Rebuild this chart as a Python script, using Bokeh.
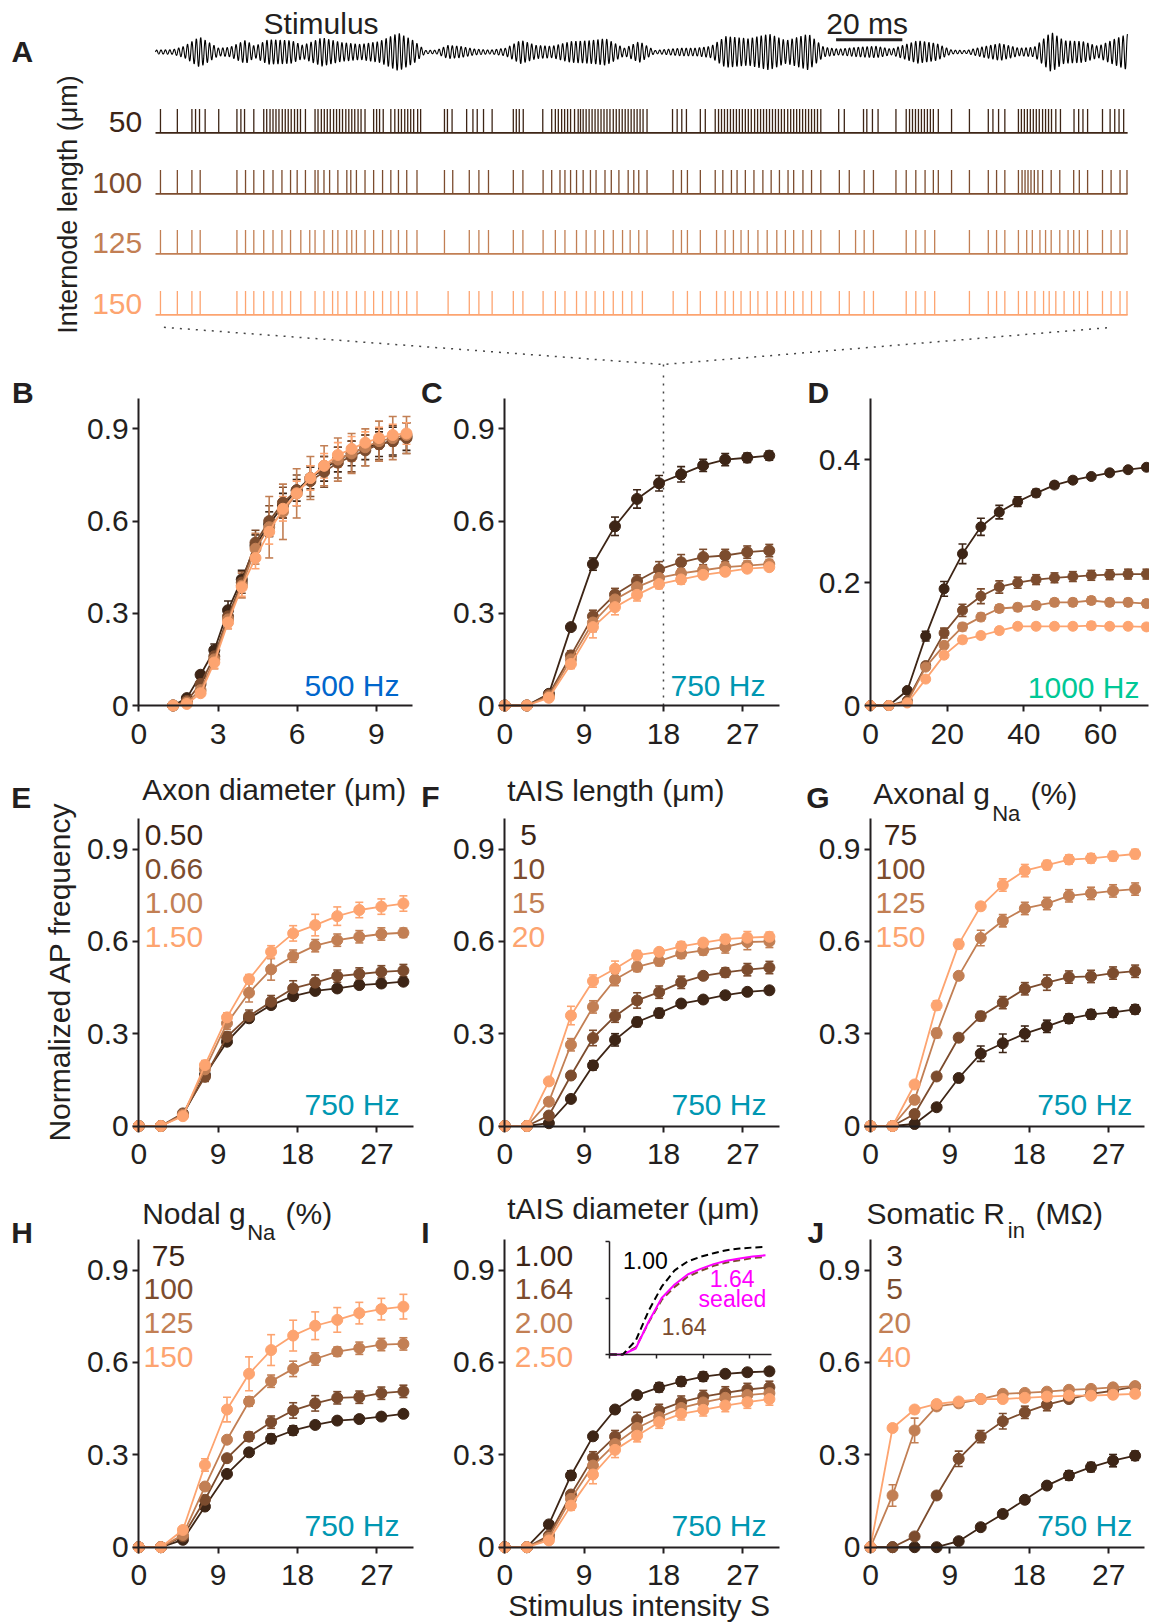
import numpy as np
from bokeh.plotting import figure
from bokeh.models import (Range1d, FixedTicker, Label, Whisker, TeeHead,
                          ColumnDataSource, LinearAxis)
from bokeh.layouts import column, row
from bokeh.embed import file_html
from bokeh.resources import INLINE

FONT = "Liberation Sans"
INK = "#231f20"
SERIES_COLORS = ["#3d2516", "#7c4c2e", "#c27f54", "#fda470"]
HZ_COLORS = {"500 Hz": "#0066cc", "750 Hz": "#0097b2", "1000 Hz": "#00c896"}
LETTER_SIZE = 30

# ---------------- A: stimulus envelope and spike trains (ms) ----------------
RECORD_MS = 293.7
CARRIER_HZ = 750
SCALE_BAR_MS = 20
STIM_ENVELOPE = [
    (0, 0.1), (5.2, 0.12), (8.7, 0.3), (13.3, 0.8), (19.1, 0.2), (22.5, 0.25),
    (27.2, 0.62), (30.0, 0.3), (34.0, 0.65), (41.0, 0.6), (44.5, 0.35),
    (50.3, 0.75), (56.1, 0.5), (61.9, 0.4), (67.6, 0.55), (73.4, 1.0),
    (78.0, 0.6), (81.5, 0.08), (85.0, 0.1), (88.4, 0.35), (91.9, 0.3),
    (96.5, 0.15), (101.2, 0.1), (105.8, 0.2), (110.4, 0.62), (115.0, 0.35),
    (119.7, 0.3), (125.4, 0.55), (131.2, 0.6), (136.0, 0.7), (141.7, 0.2),
    (146.2, 0.55), (150.8, 0.08), (155.3, 0.15), (158.7, 0.2), (163.2, 0.2),
    (167.8, 0.3), (172.3, 0.82), (179.1, 0.7), (185.4, 0.95), (190.5, 0.6),
    (197.3, 0.95), (201.9, 0.25), (206.4, 0.15), (212.1, 0.25), (217.8, 0.3),
    (222.3, 0.15), (230.3, 0.6), (235.9, 0.45), (240.5, 0.1), (245.0, 0.08),
    (250.7, 0.3), (255.2, 0.45), (260.9, 0.2), (265.5, 0.25), (270.6, 1.05),
    (274.5, 0.6), (280.2, 0.55), (284.8, 0.3), (289.3, 0.65), (293.7, 0.95),
]
INTERNODE_LABELS = ["50", "100", "125", "150"]
SPIKES_50 = [
    1.5, 6.6, 11.0, 12.1, 13.3, 15.0, 19.1, 24.6, 25.8, 26.9, 29.7, 32.7, 33.6,
    34.6, 35.5, 36.4, 37.3, 38.3, 39.2, 40.1, 41.0, 42.0, 42.9, 43.8, 45.3, 48.2,
    49.1, 50.1, 51.0, 51.9, 52.8, 53.8, 54.7, 55.6, 56.5, 57.5, 58.4, 59.3, 60.2,
    61.2, 62.1, 63.3, 65.9, 66.8, 67.7, 68.8, 71.1, 72.3, 73.4, 74.3, 75.3, 76.2,
    77.1, 78.0, 79.2, 80.1, 87.3, 88.2, 89.6, 94.0, 95.9, 97.2, 99.1, 101.7,
    108.1, 109.0, 109.9, 111.1, 117.0, 119.7, 120.8, 121.7, 122.7, 123.6, 124.5,
    125.4, 126.6, 127.7, 128.4, 129.2, 130.1, 131.0, 131.9, 132.8, 133.7, 134.6,
    135.5, 136.4, 137.3, 138.3, 139.2, 140.1, 141.0, 141.9, 142.8, 143.7, 144.6,
    145.5, 146.4, 147.3, 148.5, 156.2, 157.6, 159.0, 160.4, 164.6, 166.1, 169.1,
    170.1, 171.0, 171.9, 172.8, 173.7, 174.6, 175.5, 176.4, 177.3, 178.2, 179.1,
    180.0, 181.0, 181.9, 182.8, 183.7, 184.6, 185.5, 186.4, 187.3, 188.2, 189.1,
    190.0, 191.0, 191.9, 192.8, 193.7, 194.6, 195.5, 196.4, 197.3, 198.2, 199.1,
    200.0, 201.0, 206.4, 208.1, 213.9, 214.9, 216.6, 218.3, 223.7, 226.8, 227.8,
    228.7, 229.6, 230.5, 231.4, 232.3, 233.2, 234.1, 235.0, 236.5, 240.5, 245.9,
    251.6, 253.0, 254.7, 256.6, 260.7, 261.6, 262.5, 263.4, 264.3, 265.2, 266.1,
    267.0, 268.0, 268.9, 269.8, 270.7, 272.0, 273.4, 277.5, 278.9, 280.2, 281.6,
    286.1, 288.4, 289.8, 291.1, 292.5,
]
SPIKES_100 = [
    1.5, 6.6, 11.0, 13.5, 24.6, 27.2, 29.7, 32.7, 35.5, 38.2, 40.8, 42.8, 45.3,
    48.2, 49.1, 50.9, 52.6, 55.1, 57.8, 59.0, 60.7, 63.3, 65.9, 68.6, 71.1, 73.4,
    75.9, 79.0, 87.3, 89.8, 94.8, 97.7, 100.6, 108.1, 111.0, 117.1, 119.7, 122.2,
    123.7, 125.4, 127.2, 129.2, 131.4, 133.1, 135.8, 137.7, 140.0, 142.8, 144.5,
    146.0, 148.5, 156.4, 158.9, 160.7, 164.6, 169.1, 171.4, 174.0, 175.7, 178.2,
    180.8, 183.5, 186.0, 188.5, 191.1, 192.8, 195.6, 198.2, 201.0, 206.6, 209.6,
    214.1, 216.9, 223.7, 226.8, 229.7, 232.5, 235.0, 236.5, 240.5, 245.9, 251.6,
    254.1, 256.6, 260.7, 261.8, 262.7, 263.6, 264.5, 265.5, 266.6, 268.0, 270.6,
    273.2, 277.4, 279.1, 281.6, 286.1, 288.7, 291.4, 293.5,
]
SPIKES_125 = [
    1.5, 6.6, 11.0, 13.5, 24.6, 27.2, 29.7, 32.7, 35.5, 38.2, 40.8, 43.9, 46.6,
    48.2, 50.9, 53.5, 55.1, 57.8, 59.3, 60.7, 63.3, 65.9, 68.6, 71.1, 73.4, 75.9,
    79.0, 87.3, 94.8, 97.7, 100.6, 108.1, 111.0, 117.1, 120.8, 123.7, 127.2,
    130.1, 132.8, 135.4, 138.3, 141.1, 143.4, 146.0, 148.5, 156.4, 158.9, 160.7,
    164.6, 169.5, 172.1, 174.6, 176.9, 179.1, 182.0, 184.8, 187.7, 190.3, 192.8,
    195.6, 198.2, 201.0, 206.6, 211.5, 214.1, 216.9, 226.8, 229.7, 232.5, 235.4,
    245.9, 251.6, 254.1, 256.6, 260.7, 263.2, 264.9, 267.2, 268.9, 270.6, 273.2,
    275.7, 277.4, 279.1, 281.6, 286.1, 288.7, 291.4, 293.5,
]
SPIKES_150 = [
    1.5, 6.6, 11.0, 13.5, 24.6, 27.2, 29.7, 32.7, 35.5, 38.2, 40.8, 43.9, 48.2,
    50.9, 53.5, 55.1, 57.8, 60.7, 63.3, 65.9, 68.6, 71.1, 73.4, 75.9, 79.0, 88.4,
    94.8, 97.7, 101.7, 108.1, 111.0, 117.1, 120.8, 123.7, 127.2, 130.1, 132.8,
    135.4, 138.3, 141.1, 143.9, 147.1, 156.4, 160.7, 164.6, 169.5, 172.1, 174.6,
    176.9, 179.7, 182.0, 184.8, 187.7, 190.3, 192.8, 195.6, 198.2, 201.0, 206.6,
    209.6, 214.1, 216.9, 226.8, 229.7, 232.5, 235.4, 245.9, 251.6, 254.1, 256.6,
    260.7, 263.2, 265.7, 268.3, 270.0, 272.0, 274.5, 277.4, 279.1, 281.6, 286.1,
    288.7, 291.4, 293.5,
]
SPIKE_TRAINS = [SPIKES_50, SPIKES_100, SPIKES_125, SPIKES_150]

# ---------------- B-D: internode length at three carrier rates ----------------
B_X = [1.3, 1.82, 2.34, 2.86, 3.38, 3.9, 4.42, 4.94, 5.46, 5.98, 6.5, 7.02,
       7.54, 8.06, 8.58, 9.1, 9.62, 10.14]
B_Y = [
    [0, 0.024, 0.10, 0.18, 0.31, 0.41, 0.52, 0.59, 0.65, 0.70, 0.74, 0.77, 0.80, 0.82, 0.84, 0.85, 0.86, 0.875],
    [0, 0.015, 0.07, 0.16, 0.29, 0.40, 0.53, 0.60, 0.66, 0.70, 0.73, 0.76, 0.79, 0.81, 0.83, 0.85, 0.86, 0.87],
    [0, 0.01, 0.05, 0.15, 0.28, 0.39, 0.51, 0.58, 0.63, 0.69, 0.74, 0.78, 0.80, 0.82, 0.84, 0.86, 0.87, 0.88],
    [0, 0.005, 0.04, 0.14, 0.27, 0.385, 0.48, 0.565, 0.64, 0.69, 0.74, 0.78, 0.815, 0.835, 0.855, 0.87, 0.88, 0.885],
]
B_E = [
    [0, 0.005, 0.01, 0.02, 0.03, 0.03, 0.035, 0.04, 0.04, 0.035, 0.035, 0.04, 0.04, 0.04, 0.04, 0.04, 0.045, 0.045],
    [0, 0.005, 0.01, 0.02, 0.03, 0.035, 0.04, 0.05, 0.05, 0.05, 0.05, 0.05, 0.05, 0.05, 0.05, 0.05, 0.05, 0.05],
    [0, 0.01, 0.02, 0.03, 0.03, 0.04, 0.05, 0.10, 0.09, 0.08, 0.07, 0.065, 0.07, 0.065, 0.06, 0.065, 0.07, 0.06],
    [0, 0.005, 0.01, 0.02, 0.02, 0.03, 0.035, 0.04, 0.04, 0.04, 0.04, 0.04, 0.04, 0.04, 0.035, 0.035, 0.035, 0.035],
]

S_X = [0, 2.5, 5, 7.5, 10, 12.5, 15, 17.5, 20, 22.5, 25, 27.5, 30]
C_Y = [
    [0, 0, 0.038, 0.255, 0.46, 0.583, 0.672, 0.723, 0.752, 0.781, 0.80, 0.806, 0.813],
    [0, 0, 0.035, 0.163, 0.29, 0.361, 0.405, 0.443, 0.466, 0.483, 0.488, 0.499, 0.504],
    [0, 0, 0.03, 0.15, 0.27, 0.345, 0.385, 0.415, 0.43, 0.44, 0.45, 0.455, 0.46],
    [0, 0, 0.025, 0.135, 0.255, 0.32, 0.36, 0.395, 0.41, 0.425, 0.435, 0.445, 0.45],
]
C_E = [
    [0, 0, 0.01, 0.01, 0.02, 0.03, 0.03, 0.025, 0.025, 0.02, 0.02, 0.015, 0.015],
    [0, 0, 0.01, 0.015, 0.02, 0.02, 0.02, 0.025, 0.025, 0.025, 0.02, 0.02, 0.02],
    [0, 0, 0.01, 0.015, 0.03, 0.02, 0.02, 0.015, 0.015, 0.015, 0.015, 0.015, 0.015],
    [0, 0, 0.005, 0.015, 0.035, 0.025, 0.02, 0.015, 0.015, 0.01, 0.01, 0.01, 0.01],
]

D_X = [0, 4.8, 9.6, 14.4, 19.2, 24, 28.8, 33.6, 38.4, 43.2, 48, 52.8, 57.6, 62.4, 67.2, 72]
D_Y = [
    [0, 0, 0.0245, 0.113, 0.19, 0.247, 0.291, 0.315, 0.332, 0.346, 0.359, 0.367, 0.373, 0.379, 0.384, 0.388],
    [0, 0, 0.008, 0.065, 0.118, 0.155, 0.178, 0.193, 0.2, 0.205, 0.208, 0.21, 0.212, 0.213, 0.214, 0.214],
    [0, 0, 0.005, 0.0625, 0.098, 0.128, 0.144, 0.158, 0.16, 0.163, 0.168, 0.168, 0.171, 0.168, 0.168, 0.166],
    [0, 0, 0.004, 0.043, 0.082, 0.107, 0.114, 0.122, 0.129, 0.129, 0.129, 0.129, 0.13, 0.129, 0.129, 0.128],
]
D_E = [
    [0, 0, 0.004, 0.008, 0.012, 0.016, 0.014, 0.011, 0.008, 0.006, 0.005, 0.005, 0.004, 0.004, 0.004, 0.004],
    [0, 0, 0.003, 0.005, 0.008, 0.01, 0.012, 0.01, 0.009, 0.008, 0.008, 0.008, 0.008, 0.008, 0.008, 0.008],
    [0, 0, 0.003, 0.004, 0.005, 0.006, 0.006, 0.006, 0.006, 0.006, 0.006, 0.006, 0.006, 0.006, 0.006, 0.006],
    [0, 0, 0.002, 0.004, 0.005, 0.006, 0.005, 0.005, 0.005, 0.005, 0.005, 0.005, 0.006, 0.005, 0.005, 0.005],
]

# ---------------- E-J: parameter sweeps at 750 Hz ----------------
E_LABELS = ["0.50", "0.66", "1.00", "1.50"]
E_Y = [
    [0, 0, 0.036, 0.166, 0.274, 0.35, 0.393, 0.422, 0.439, 0.447, 0.458, 0.463, 0.469],
    [0, 0, 0.041, 0.16, 0.29, 0.357, 0.404, 0.447, 0.466, 0.487, 0.494, 0.501, 0.505],
    [0, 0, 0.036, 0.184, 0.334, 0.433, 0.509, 0.552, 0.586, 0.604, 0.615, 0.624, 0.628],
    [0, 0, 0.032, 0.198, 0.353, 0.477, 0.566, 0.626, 0.653, 0.682, 0.702, 0.713, 0.723],
]
E_E = [
    [0, 0, 0.005, 0.01, 0.01, 0.01, 0.01, 0.01, 0.01, 0.01, 0.01, 0.01, 0.01],
    [0, 0, 0.005, 0.015, 0.015, 0.02, 0.02, 0.025, 0.025, 0.02, 0.02, 0.02, 0.02],
    [0, 0, 0.005, 0.015, 0.02, 0.03, 0.035, 0.02, 0.02, 0.02, 0.02, 0.02, 0.015],
    [0, 0, 0.005, 0.015, 0.015, 0.015, 0.02, 0.025, 0.035, 0.03, 0.025, 0.025, 0.025],
]

F_LABELS = ["5", "10", "15", "20"]
F_Y = [
    [0, 0, 0.009, 0.088, 0.197, 0.28, 0.338, 0.367, 0.398, 0.411, 0.425, 0.436, 0.441],
    [0, 0, 0.034, 0.164, 0.286, 0.357, 0.408, 0.435, 0.467, 0.488, 0.499, 0.508, 0.515],
    [0, 0, 0.079, 0.264, 0.387, 0.476, 0.517, 0.536, 0.56, 0.571, 0.582, 0.598, 0.6],
    [0, 0, 0.145, 0.359, 0.471, 0.511, 0.555, 0.566, 0.584, 0.596, 0.607, 0.612, 0.615],
]
F_E = [
    [0, 0, 0.005, 0.01, 0.015, 0.02, 0.015, 0.015, 0.01, 0.01, 0.01, 0.01, 0.01],
    [0, 0, 0.005, 0.01, 0.025, 0.02, 0.025, 0.02, 0.02, 0.01, 0.015, 0.02, 0.02],
    [0, 0, 0.005, 0.02, 0.02, 0.02, 0.015, 0.015, 0.015, 0.015, 0.02, 0.025, 0.02],
    [0, 0, 0.005, 0.03, 0.02, 0.025, 0.015, 0.01, 0.015, 0.01, 0.015, 0.02, 0.015],
]

G_LABELS = ["75", "100", "125", "150"]
G_Y = [
    [0, 0, 0.0065, 0.061, 0.156, 0.235, 0.269, 0.30, 0.324, 0.349, 0.363, 0.369, 0.379],
    [0, 0, 0.039, 0.161, 0.287, 0.357, 0.401, 0.446, 0.466, 0.484, 0.486, 0.497, 0.503],
    [0, 0, 0.085, 0.302, 0.488, 0.611, 0.667, 0.707, 0.723, 0.748, 0.756, 0.764, 0.77],
    [0, 0, 0.135, 0.392, 0.591, 0.714, 0.783, 0.83, 0.848, 0.866, 0.87, 0.877, 0.884],
]
G_E = [
    [0, 0, 0.005, 0.01, 0.01, 0.025, 0.03, 0.025, 0.02, 0.015, 0.015, 0.015, 0.015],
    [0, 0, 0.005, 0.01, 0.01, 0.015, 0.02, 0.02, 0.025, 0.02, 0.02, 0.02, 0.02],
    [0, 0, 0.005, 0.015, 0.01, 0.025, 0.02, 0.02, 0.02, 0.02, 0.02, 0.02, 0.02],
    [0, 0, 0.01, 0.015, 0.015, 0.01, 0.02, 0.02, 0.015, 0.015, 0.015, 0.015, 0.015],
]

H_LABELS = ["75", "100", "125", "150"]
H_Y = [
    [0, 0, 0.024, 0.132, 0.238, 0.308, 0.352, 0.379, 0.397, 0.411, 0.416, 0.424, 0.433],
    [0, 0, 0.035, 0.154, 0.289, 0.359, 0.406, 0.444, 0.467, 0.485, 0.487, 0.5, 0.506],
    [0, 0, 0.04, 0.197, 0.349, 0.473, 0.539, 0.579, 0.611, 0.635, 0.646, 0.658, 0.66],
    [0, 0, 0.056, 0.267, 0.447, 0.563, 0.64, 0.687, 0.719, 0.738, 0.76, 0.773, 0.781],
]
H_E = [
    [0, 0, 0.005, 0.01, 0.01, 0.01, 0.015, 0.015, 0.01, 0.01, 0.01, 0.01, 0.01],
    [0, 0, 0.005, 0.01, 0.01, 0.015, 0.02, 0.025, 0.025, 0.02, 0.02, 0.02, 0.02],
    [0, 0, 0.005, 0.01, 0.01, 0.015, 0.02, 0.025, 0.02, 0.015, 0.02, 0.02, 0.02],
    [0, 0, 0.01, 0.02, 0.04, 0.055, 0.05, 0.05, 0.045, 0.04, 0.035, 0.035, 0.04],
]

I_LABELS = ["1.00", "1.64", "2.00", "2.50"]
I_Y = [
    [0, 0, 0.074, 0.233, 0.36, 0.447, 0.494, 0.519, 0.538, 0.554, 0.563, 0.568, 0.571],
    [0, 0, 0.038, 0.171, 0.29, 0.359, 0.413, 0.444, 0.471, 0.489, 0.501, 0.512, 0.519],
    [0, 0, 0.03, 0.157, 0.265, 0.335, 0.387, 0.422, 0.452, 0.47, 0.485, 0.494, 0.5],
    [0, 0, 0.022, 0.135, 0.236, 0.316, 0.362, 0.406, 0.433, 0.446, 0.46, 0.471, 0.481],
]
I_E = [
    [0, 0, 0.005, 0.015, 0.01, 0.01, 0.01, 0.015, 0.015, 0.015, 0.01, 0.01, 0.01],
    [0, 0, 0.005, 0.01, 0.02, 0.02, 0.025, 0.02, 0.02, 0.02, 0.02, 0.02, 0.02],
    [0, 0, 0.005, 0.01, 0.02, 0.02, 0.02, 0.02, 0.02, 0.02, 0.02, 0.02, 0.02],
    [0, 0, 0.005, 0.015, 0.03, 0.025, 0.02, 0.02, 0.02, 0.02, 0.02, 0.02, 0.02],
]
# tAIS 1.64 um with a sealed end (inset)
I_SEALED_Y = [0, 0, 0.032, 0.175, 0.3, 0.372, 0.425, 0.455, 0.48, 0.498, 0.51, 0.52, 0.527]

J_LABELS = ["3", "5", "20", "40"]
J_Y = [
    [0, 0, 0, 0, 0.0195, 0.065, 0.108, 0.154, 0.2, 0.233, 0.26, 0.281, 0.297],
    [0, 0, 0.035, 0.168, 0.287, 0.359, 0.409, 0.438, 0.463, 0.481, 0.498, 0.508, 0.521],
    [0, 0.168, 0.379, 0.457, 0.467, 0.481, 0.498, 0.501, 0.505, 0.511, 0.514, 0.519, 0.523],
    [0, 0.387, 0.447, 0.465, 0.473, 0.481, 0.481, 0.485, 0.489, 0.492, 0.492, 0.495, 0.498],
]
J_E = [
    [0, 0, 0, 0, 0.005, 0.01, 0.01, 0.01, 0.01, 0.015, 0.015, 0.02, 0.015],
    [0, 0, 0.005, 0.01, 0.025, 0.02, 0.025, 0.02, 0.02, 0.01, 0.01, 0.01, 0.01],
    [0, 0.035, 0.04, 0.01, 0.01, 0.01, 0.01, 0.01, 0.01, 0.01, 0.01, 0.01, 0.01],
    [0, 0.01, 0.01, 0.01, 0.01, 0.01, 0.01, 0.01, 0.01, 0.01, 0.01, 0.01, 0.01],
]

# ---------------- page geometry (pixels) ----------------
PAGE_W = 1149
A_H = 372
ROWS = [(372, 388), (760, 420), (1180, 442)]   # top, height
COLS = [(0, 418), (418, 382), (800, 349)]      # left, width
AXIS_X0 = [138.3, 504.3, 870.0]               # page x of S = 0
ROW_Y0 = [705.0, 1125.5, 1546.7]               # page y of value 0


class Panel:
    """A figure whose frame fills it, with data mapped onto fixed page pixels."""

    def __init__(self, left, top, width, height, x0, sx, y0, sy):
        self.x0, self.sx, self.y0, self.sy = x0, sx, y0, sy
        self.fl, self.fr = left, left + width
        self.ft, self.fb = top, top + height
        self.p = figure(
            width=width, height=height, title=None,
            x_range=Range1d((self.fl - x0) / sx, (self.fr - x0) / sx),
            y_range=Range1d((y0 - self.fb) / sy, (y0 - self.ft) / sy),
            min_border=0, output_backend="svg", toolbar_location=None,
        )
        self.p.outline_line_color = None
        self.p.grid.visible = False

    def dx(self, px):
        return (px - self.x0) / self.sx

    def dy(self, py):
        return (self.y0 - py) / self.sy


def put_text(pn, px, py, s, size=30, color=INK, align="left", bold=False,
             angle=0.0, baseline="middle"):
    pn.p.add_layout(Label(
        x=pn.dx(px), y=pn.dy(py), text=s, text_font=FONT,
        text_font_size=f"{size}px", text_color=color, text_align=align,
        text_baseline=baseline, text_font_style="bold" if bold else "normal",
        angle=angle))


def style_axes(pn, x_end, y_end, xticks, yticks):
    p = pn.p
    xa, ya = p.xaxis[0], p.yaxis[0]
    for ax in (xa, ya):
        ax.fixed_location = 0
        ax.axis_line_color = INK
        ax.axis_line_width = 2
        ax.major_tick_line_color = INK
        ax.major_tick_line_width = 2
        ax.major_tick_in = 0
        ax.major_tick_out = 6
        ax.minor_tick_line_color = None
        ax.major_label_text_font = FONT
        ax.major_label_text_font_size = "30px"
        ax.major_label_text_color = INK
        ax.major_label_overrides = {0: "0"}
    xa.bounds = (0, x_end)
    ya.bounds = (0, y_end)
    xa.ticker = FixedTicker(ticks=xticks)
    ya.ticker = FixedTicker(ticks=yticks)
    xa.major_label_standoff = 12
    ya.major_label_standoff = 4


def draw_series(pn, xs, ys, errs, color, size=11):
    lo = [y - e for y, e in zip(ys, errs)]
    hi = [y + e for y, e in zip(ys, errs)]
    src = ColumnDataSource(dict(x=xs, y=ys, lo=lo, hi=hi))
    pn.p.add_layout(Whisker(
        source=src, base="x", lower="lo", upper="hi", level="underlay",
        line_color=color, line_width=1.6,
        upper_head=TeeHead(size=8, line_color=color, line_width=1.6),
        lower_head=TeeHead(size=8, line_color=color, line_width=1.6)))
    pn.p.line("x", "y", source=src, line_color=color, line_width=1.8)
    pn.p.scatter("x", "y", source=src, size=size, marker="circle",
                 fill_color=color, line_color=color)


def make_panel(r, c, sx, sy):
    top, height = ROWS[r]
    left, width = COLS[c]
    return Panel(left, top, width, height, AXIS_X0[c], sx, ROW_Y0[r], sy)


# ---------------- A ----------------
A_X0 = 155.0        # page x of t = 0
A_PX_PER_MS = 3.31
STIM_Y, STIM_AMP = 51.5, 19.0
TRAIN_BASE = [132.4, 193.4, 253.4, 314.4]
SPIKE_H = 24


class PanelA:
    def __init__(self):
        self.p = figure(
            width=PAGE_W, height=A_H, title=None,
            x_range=Range1d(-A_X0 / A_PX_PER_MS, (PAGE_W - A_X0) / A_PX_PER_MS),
            y_range=Range1d(A_H, 0), min_border=0, x_axis_type=None,
            y_axis_type=None, output_backend="svg", toolbar_location=None)
        self.p.outline_line_color = None

    def dx(self, px):
        return (px - A_X0) / A_PX_PER_MS

    def dy(self, py):
        return py


pa = PanelA()
env_t = [e[0] for e in STIM_ENVELOPE]
env_a = [e[1] for e in STIM_ENVELOPE]
t = np.arange(0, RECORD_MS, 0.05)
stim = np.interp(t, env_t, env_a) * np.sin(2 * np.pi * CARRIER_HZ * t / 1000.0)
pa.p.line(t, STIM_Y - STIM_AMP * stim, line_color="#000000", line_width=1.1)

bar_t0 = pa.dx(835.6)
pa.p.line([bar_t0, bar_t0 + SCALE_BAR_MS], [39.3, 39.3], line_color=INK, line_width=3)
put_text(pa, 866.7, 22.5, f"{SCALE_BAR_MS} ms", align="center")
put_text(pa, 320.6, 22.5, "Stimulus", align="center")
put_text(pa, 11, 50.5, "A", size=LETTER_SIZE, bold=True)

for i, (spk, base) in enumerate(zip(SPIKE_TRAINS, TRAIN_BASE)):
    col = SERIES_COLORS[i]
    pa.p.segment(x0=spk, y0=[base] * len(spk), x1=spk, y1=[base - SPIKE_H] * len(spk),
                 line_color=col, line_width=1.3)
    pa.p.line([0, RECORD_MS], [base, base], line_color=col, line_width=1.6)
    put_text(pa, 141.7, base - 11, INTERNODE_LABELS[i], color=col, align="right")
put_text(pa, 67, 204, "Internode length (\u03bcm)", size=27, align="center",
         angle=np.pi / 2)

# ---------------- B, C, D ----------------
pB = make_panel(0, 0, 26.4, 307.4)
pC = make_panel(0, 1, 8.815, 307.4)
pD = make_panel(0, 2, 3.833, 614.0)
style_axes(pB, 10.38, 1.0, [0, 3, 6, 9], [0, 0.3, 0.6, 0.9])
style_axes(pC, 31.2, 1.0, [0, 9, 18, 27], [0, 0.3, 0.6, 0.9])
style_axes(pD, 72.6, 0.5, [0, 20, 40, 60], [0, 0.2, 0.4])

# zoom guide from the spike trains down to S = 18 in C
DOT = dict(line_color="#444444", line_width=1.5, line_dash="2 6")
S_MARK = 18
apex_t = pa.dx(pC.x0 + S_MARK * pC.sx)
pa.p.line([pa.dx(163.4), apex_t, pa.dx(1111.8)], [326.8, 364.0, 326.8], **DOT)
pa.p.line([apex_t, apex_t], [364.0, A_H], **DOT)
pC.p.line([S_MARK, S_MARK], [0, pC.p.y_range.end], **DOT)

for k in range(4):
    draw_series(pB, B_X, B_Y[k], B_E[k], SERIES_COLORS[k])
    draw_series(pC, S_X, C_Y[k], C_E[k], SERIES_COLORS[k])
    draw_series(pD, D_X, D_Y[k], D_E[k], SERIES_COLORS[k], size=10)

put_text(pB, 11.5, 391.7, "B", size=LETTER_SIZE, bold=True)
put_text(pC, 420.5, 391.7, "C", size=LETTER_SIZE, bold=True)
put_text(pD, 807, 391.7, "D", size=LETTER_SIZE, bold=True)
put_text(pB, 399, 685, "500 Hz", color=HZ_COLORS["500 Hz"], align="right")
put_text(pC, 765, 685, "750 Hz", color=HZ_COLORS["750 Hz"], align="right")
put_text(pD, 1139, 686.7, "1000 Hz", color=HZ_COLORS["1000 Hz"], align="right")

# ---------------- E - J ----------------
panels = {}
for name, r, c in [("E", 1, 0), ("F", 1, 1), ("G", 1, 2), ("H", 2, 0), ("I", 2, 1), ("J", 2, 2)]:
    pn = make_panel(r, c, 8.82, 307.7 if r == 1 else 308.0)
    style_axes(pn, 31.1, 1.0, [0, 9, 18, 27], [0, 0.3, 0.6, 0.9])
    panels[name] = pn

SWEEPS = {
    "E": (E_LABELS, E_Y, E_E), "F": (F_LABELS, F_Y, F_E), "G": (G_LABELS, G_Y, G_E),
    "H": (H_LABELS, H_Y, H_E), "I": (I_LABELS, I_Y, I_E), "J": (J_LABELS, J_Y, J_E),
}
LEGEND_X = {"E": 173.5, "F": 528, "G": 900, "H": 168, "I": 543.5, "J": 894}
LEGEND_Y = {1: [834, 868.3, 902, 936], 2: [1255, 1288.3, 1322.7, 1356]}
LETTER_POS = {"E": (10.7, 797), "F": (420.7, 796), "G": (805.7, 797),
              "H": (10.7, 1231.7), "I": (420.7, 1231.7), "J": (807, 1231.7)}
HZ_POS = {"E": (399, 1104.3), "F": (766, 1104), "G": (1131.7, 1104),
          "H": (399, 1525), "I": (766, 1525), "J": (1131.7, 1525)}

for name, (labels, ys, es) in SWEEPS.items():
    pn = panels[name]
    r = 1 if name in "EFG" else 2
    for k in range(4):
        draw_series(pn, S_X, ys[k], es[k], SERIES_COLORS[k])
        put_text(pn, LEGEND_X[name], LEGEND_Y[r][k], labels[k],
                 color=SERIES_COLORS[k], align="center")
    lx, ly = LETTER_POS[name]
    put_text(pn, lx, ly, name, size=LETTER_SIZE, bold=True)
    hx, hy = HZ_POS[name]
    put_text(pn, hx, hy, "750 Hz", color=HZ_COLORS["750 Hz"], align="right")

# panel titles (with subscripts built from separate labels)
put_text(panels["E"], 141.7, 789.3, "Axon diameter (\u03bcm)")
put_text(panels["F"], 506.7, 790, "tAIS length (\u03bcm)")
put_text(panels["G"], 872.7, 792.7, "Axonal g")
put_text(panels["G"], 991.7, 812.5, "Na", size=22)
put_text(panels["G"], 1030, 792.7, "(%)")
put_text(panels["H"], 141.7, 1213.3, "Nodal g")
put_text(panels["H"], 246.7, 1231.5, "Na", size=22)
put_text(panels["H"], 285, 1213.3, "(%)")
put_text(panels["I"], 506.7, 1208.3, "tAIS diameter (\u03bcm)")
put_text(panels["J"], 866, 1213.3, "Somatic R")
put_text(panels["J"], 1007.3, 1230, "in", size=22)
put_text(panels["J"], 1035, 1213.3, "(M\u03a9)")

put_text(panels["E"], 58.5, 971, "Normalized AP frequency", align="center", angle=np.pi / 2)
put_text(panels["I"], 507.7, 1605, "Stimulus intensity S")

# ---------------- inset in I: sealed-end comparison ----------------
pI = panels["I"]
INSET_X0, INSET_SX = 609.3, 5.19     # page x of S = 0, px per unit
INSET_Y0, INSET_SY = 1354.0, 188.3   # page y of value 0, px per unit
pI.p.extra_x_ranges = {"ix": Range1d((pI.fl - INSET_X0) / INSET_SX, (pI.fr - INSET_X0) / INSET_SX)}
pI.p.extra_y_ranges = {"iy": Range1d((INSET_Y0 - pI.fb) / INSET_SY, (INSET_Y0 - pI.ft) / INSET_SY)}
for side, ticks, bound in [("below", [0, 9, 18, 27], 31.1), ("left", [0, 0.3, 0.6], 0.6)]:
    ax = LinearAxis(x_range_name="ix", y_range_name="iy", fixed_location=0,
                    bounds=(0, bound), ticker=FixedTicker(ticks=ticks),
                    axis_line_color=INK, axis_line_width=1.5,
                    major_tick_line_color=INK, major_tick_line_width=1.5,
                    major_tick_in=0, major_tick_out=4, minor_tick_line_color=None,
                    major_label_text_color=None, major_label_text_font_size="1px")
    pI.p.add_layout(ax, side)
pI.p.line(S_X, I_Y[1], x_range_name="ix", y_range_name="iy",
          line_color=SERIES_COLORS[1], line_width=2, line_dash="7 4")
pI.p.line(S_X, I_SEALED_Y, x_range_name="ix", y_range_name="iy",
          line_color="#ff00ff", line_width=2)
pI.p.line(S_X, I_Y[0], x_range_name="ix", y_range_name="iy",
          line_color="#000000", line_width=2, line_dash="7 4")
put_text(pI, 645, 1260, "1.00", size=23, color="#000000", align="center")
put_text(pI, 731.7, 1277.7, "1.64", size=23, color="#ff00ff", align="center")
put_text(pI, 732, 1298.3, "sealed", size=23, color="#ff00ff", align="center")
put_text(pI, 683.7, 1326, "1.64", size=23, color=SERIES_COLORS[1], align="center")

layout = column(
    pa.p,
    row(pB.p, pC.p, pD.p),
    row(panels["E"].p, panels["F"].p, panels["G"].p),
    row(panels["H"].p, panels["I"].p, panels["J"].p),
)

open("out.html", "w").write(file_html(layout, INLINE))
